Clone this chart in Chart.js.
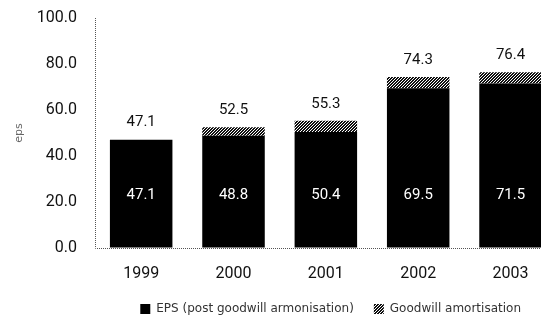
<!DOCTYPE html>
<html>
<head>
<meta charset="utf-8">
<script src="https://cdn.jsdelivr.net/npm/chart.js@4.4.1/dist/chart.umd.min.js"></script>
<style>
  html, body { margin: 0; padding: 0; background: #fff; overflow: hidden; }
  #wrap { position: relative; width: 541px; height: 316px; }
</style>
</head>
<body>
<div id="wrap"><canvas id="chart"></canvas></div>
<script>
const years = [1999, 2000, 2001, 2002, 2003];
const epsPostGoodwill = [47.1, 48.8, 50.4, 69.5, 71.5];
const goodwillAmortisation = [null, 3.7, 4.9, 4.8, 4.9];
const epsTotal = [47.1, 52.5, 55.3, 74.3, 76.4];
const yTicks = [0, 20, 40, 60, 80, 100];

// inside labels sit at a fixed level on the value axis
const insideLabelAt = 23;

function hatchPattern() {
  const c = document.createElement('canvas');
  c.width = 3;
  c.height = 3;
  const g = c.getContext('2d');
  g.fillStyle = '#fff';
  g.fillRect(0, 0, 3, 3);
  g.fillStyle = '#111';
  for (let y = 0; y < 3; y++) {
    for (let x = 0; x < 3; x++) {
      if ((x + y) % 3 !== 2) g.fillRect(x, y, 1, 1);
    }
  }
  return g.createPattern(c, 'repeat');
}

// border.dash only applies to grid lines in v4, so the dotted axes are stroked here
const dottedAxes = {
  id: 'dottedAxes',
  beforeDatasetsDraw(chart) {
    const { ctx, chartArea: a } = chart;
    ctx.save();
    ctx.strokeStyle = '#555';
    ctx.lineWidth = 1;
    ctx.setLineDash([1, 1]);
    ctx.beginPath();
    ctx.moveTo(Math.round(a.left) + 0.5, a.top);
    ctx.lineTo(Math.round(a.left) + 0.5, Math.round(a.bottom) + 0.5);
    ctx.lineTo(a.right, Math.round(a.bottom) + 0.5);
    ctx.stroke();
    ctx.restore();
  }
};

const valueLabels = {
  id: 'valueLabels',
  afterDatasetsDraw(chart) {
    const ctx = chart.ctx;
    const yScale = chart.scales.y;
    const bars = chart.getDatasetMeta(0).data;
    ctx.save();
    ctx.font = '15px Roboto';
    ctx.textAlign = 'center';
    ctx.textBaseline = 'middle';
    bars.forEach((bar, i) => {
      ctx.fillStyle = '#111';
      ctx.fillText(epsTotal[i].toFixed(1), bar.x, yScale.getPixelForValue(epsTotal[i]) - 17);
      ctx.fillStyle = '#fff';
      ctx.fillText(epsPostGoodwill[i].toFixed(1), bar.x, yScale.getPixelForValue(insideLabelAt));
    });
    ctx.restore();
  }
};

new Chart(document.getElementById('chart'), {
  type: 'bar',
  data: {
    labels: years,
    datasets: [
      {
        label: 'EPS (post goodwill armonisation)',
        data: epsPostGoodwill,
        backgroundColor: '#000',
        borderWidth: 0,
        barPercentage: 0.677,
        categoryPercentage: 1
      },
      {
        label: 'Goodwill amortisation',
        data: goodwillAmortisation,
        backgroundColor: hatchPattern(),
        borderWidth: 0,
        barPercentage: 0.677,
        categoryPercentage: 1
      }
    ]
  },
  options: {
    responsive: true,
    maintainAspectRatio: false,
    animation: false,
    layout: { padding: { left: 9, top: 18, right: 0, bottom: -9 } },
    scales: {
      x: {
        type: 'linear',
        stacked: true,
        offset: false,
        min: 1998.5,
        max: 2003.33,
        grid: { display: false },
        border: { display: false },
        afterBuildTicks: s => { s.ticks = years.map(v => ({ value: v })); },
        afterFit: s => { s.height = 35; },
        ticks: {
          padding: 8,
          color: '#111',
          font: { family: 'Roboto', size: 16 },
          callback: v => String(v)
        }
      },
      y: {
        stacked: true,
        min: 0,
        max: 100,
        // invisible tick marks give the gap between labels and axis
        grid: { display: true, drawOnChartArea: false, drawTicks: true, tickLength: 18, color: 'rgba(0,0,0,0)' },
        border: { display: false },
        afterBuildTicks: s => { s.ticks = yTicks.map(v => ({ value: v })); },
        afterFit: s => { s.width = 86; },
        ticks: {
          padding: 0,
          color: '#111',
          font: { family: 'Roboto', size: 16 },
          callback: v => v.toFixed(1)
        },
        title: {
          display: true,
          text: 'eps',
          color: '#666',
          font: { family: 'DejaVu Sans', size: 11 },
          padding: { top: 4, bottom: 4 }
        }
      }
    },
    plugins: {
      legend: {
        position: 'bottom',
        align: 'end',
        fullSize: false,
        labels: {
          boxWidth: 10,
          boxHeight: 10,
          padding: 20,
          color: '#333',
          font: { family: 'DejaVu Sans', size: 12 }
        }
      },
      tooltip: { enabled: false }
    }
  },
  plugins: [dottedAxes, valueLabels]
});
</script>
</body>
</html>
